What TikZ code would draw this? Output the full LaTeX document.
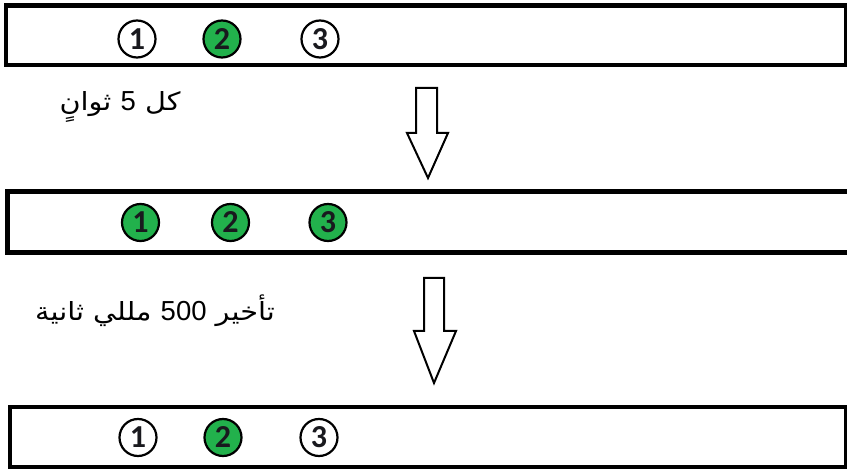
\documentclass[tikz,border=0pt]{standalone}
\usepackage{fontspec}
\setmainfont{Liberation Sans}
\newfontfamily\arabicfont[Script=Arabic, FakeStretch=1.15]{DejaVu Sans}
\newfontfamily\latinfont{Liberation Sans}
\newfontfamily\numfont{Carlito}
\TeXXeTstate=1
\definecolor{stategreen}{RGB}{34,177,76}
\definecolor{digitink}{RGB}{25,25,30}
\newcommand{\latnum}[1]{\beginL{\latinfont\fontsize{27.5}{30}\selectfont #1}\endL}
\begin{document}
\begin{tikzpicture}[x=1pt,y=-1pt,
  strip/.style={rectangle, draw=black, line width=4.5pt, inner sep=0pt, outer sep=0pt},
  led/.style={circle, draw=black, line width=2.2pt, minimum size=37pt, inner sep=0pt,
    text=digitink, font=\numfont\bfseries\fontsize{32}{32}\selectfont},
  ledon/.style={led, fill=stategreen},
  ledoff/.style={led, fill=white},
  blockarrow/.style={draw=black, line width=2pt, fill=white, line join=miter},
  caption/.style={font=\arabicfont\fontsize{25}{30}\selectfont, inner sep=0pt}]
\useasboundingbox (0,0) rectangle (847,470);
\clip (0,0) rectangle (847,470);
\fill[white] (0,0) rectangle (847,470);

% strips
\node[strip, minimum width=840pt, minimum height=59.5pt] (s1) at (426,35.25) {};
\node[strip, minimum width=872.5pt, minimum height=61pt] (s2) at (443.75,222) {};
\node[strip, minimum width=836pt, minimum height=60pt] (s3) at (428,437) {};

% row 1
\node[ledoff] (a1) at (137,39) {1};
\node[ledon]  (a2) at (222,39) {2};
\node[ledoff] (a3) at (320,39) {3};
% row 2
\node[ledon] (b1) at (140.5,222.5) {1};
\node[ledon] (b2) at (230.5,222.5) {2};
\node[ledon] (b3) at (328,222.5) {3};
% row 3
\node[ledoff] (c1) at (138,437.5) {1};
\node[ledon]  (c2) at (223,437.5) {2};
\node[ledoff] (c3) at (319,437.5) {3};

% block arrows
\draw[blockarrow] (416,88) -- (437,88) -- (437,133) -- (448,133) -- (428,178)
  -- (407,133) -- (416,133) -- cycle;
\draw[blockarrow] (424,278) -- (444,278) -- (444,331) -- (456,331) -- (434,383)
  -- (414,331) -- (424,331) -- cycle;

% captions
\node[caption] (t1) at (120,107) {\beginR كل \latnum{5} ثوانٍ\endR};
\node[caption] (t2) at (155,311) {\beginR تأخير \latnum{500} مللي ثانية\endR};
\end{tikzpicture}
\end{document}
